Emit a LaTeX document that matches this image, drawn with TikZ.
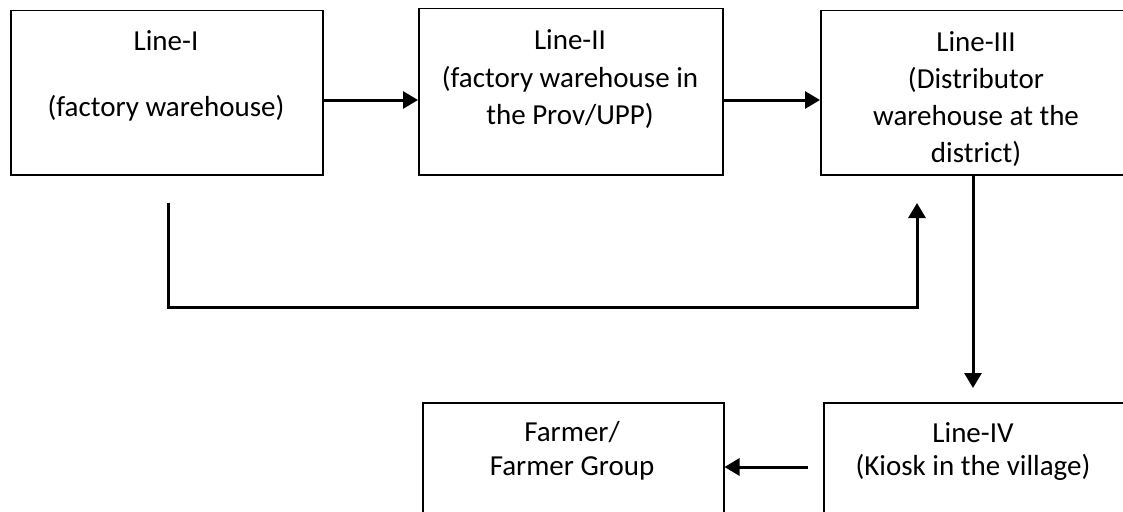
\documentclass[tikz,border=0pt]{standalone}
\usepackage{fontspec}
\setmainfont{Carlito}
\usetikzlibrary{arrows.meta}
\begin{document}
\begin{tikzpicture}[x=1pt,y=-1pt,
  box/.style={draw,line width=1.5pt,inner sep=0pt,anchor=north west},
  txt/.style={anchor=base,inner sep=0pt,font=\fontsize{29}{36}\selectfont},
  arr/.style={line width=3pt,-{Triangle[length=15pt,width=17pt]}}]
\clip (0,0) rectangle (1123,511);
% boxes
\node[box,minimum width=312pt,minimum height=164pt] (b1) at (10,10) {};
\node[box,minimum width=304pt,minimum height=166pt] (b2) at (418,8) {};
\node[box,minimum width=312pt,minimum height=164pt] (b3) at (820,10) {};
\node[box,minimum width=302pt,minimum height=158pt] (b4) at (823,402) {};
\node[box,minimum width=301pt,minimum height=158pt] (fa) at (422,402) {};
% texts
\node[txt] (t1a) at (166,51) {Line-I};
\node[txt] (t1b) at (166,116) {(factory warehouse)};
\node[txt] (t2a) at (570,49) {Line-II};
\node[txt] (t2b) at (570,87) {(factory warehouse in};
\node[txt] (t2c) at (570,124) {the Prov/UPP)};
\node[txt] (t3a) at (976,51.5) {Line-III};
\node[txt] (t3b) at (976,88.5) {(Distributor};
\node[txt] (t3c) at (976,125.5) {warehouse at the};
\node[txt] (t3d) at (976,162.5) {district)};
\node[txt] (t4a) at (973,442) {Line-IV};
\node[txt] (t4b) at (973,475) {(Kiosk in the village)};
\node[txt] (tfa) at (572,441) {Farmer/};
\node[txt] (tfb) at (572,475) {Farmer Group};
% connectors
\coordinate (y1) at (0,100);
\draw[arr] (b1.east |- y1) -- (b2.west |- y1);
\draw[arr] (b2.east |- y1) -- (b3.west |- y1);
\coordinate (d1) at (973,388);
\draw[arr] (b3.south -| d1) -- (d1);
\coordinate (l1) at (808,467);
\draw[arr] (l1) -- (fa.east |- l1);
\coordinate (p1) at (168,203);
\coordinate (q) at (917,307);
\coordinate (p2) at (917,203);
\draw[arr] (p1) |- (q) -- (p2);
\end{tikzpicture}
\end{document}
